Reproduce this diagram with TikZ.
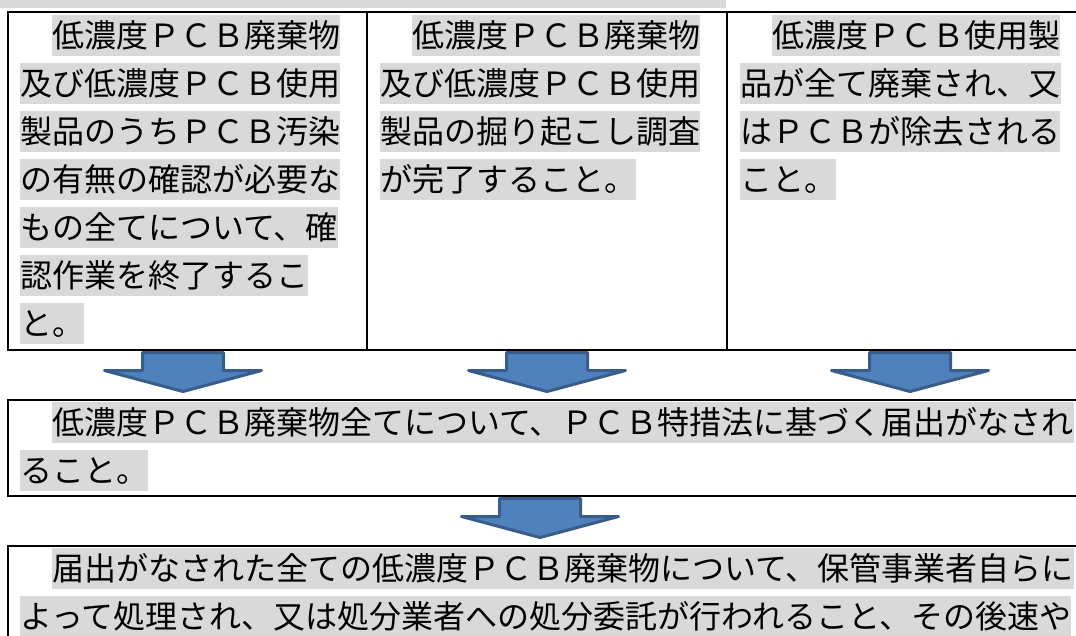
\documentclass[tikz,border=0pt]{standalone}
\usepackage{fontspec}
\newfontfamily\jpfont{Noto Sans CJK JP}
\usetikzlibrary{calc}
\definecolor{hlgray}{HTML}{D9D9D9}
\definecolor{arrowfill}{HTML}{4F81BD}
\definecolor{arrowline}{HTML}{385D8A}
\tikzset{
  boxcell/.style={draw=black, line width=2pt, inner sep=0pt, anchor=north west},
  hl/.style={fill=hlgray, inner xsep=0pt, inner ysep=4.5pt, text height=28pt, text depth=4pt,
    anchor=west, font=\jpfont\fontsize{32pt}{32pt}\selectfont},
  arrowstyle/.style={fill=arrowfill, draw=arrowline, line width=3pt, line join=round},
  downarrow/.pic={
    \path[arrowstyle] (-40.5,1.5) -- (40.5,1.5) -- (40.5,19.5) -- (78.5,19.5) -- (0,40.5)
      -- (-78.5,19.5) -- (-40.5,19.5) -- cycle;
  }
}
\begin{document}
\begin{tikzpicture}[x=1pt,y=-1pt]
\useasboundingbox (0,0) rectangle (1076,635);
\clip (0,0) rectangle (1076,635);
\fill[white] (0,0) rectangle (1076,635);
% cut-off band at the very top
\fill[hlgray] (0,0) rectangle (726,8);

% top row of three cells
\node[boxcell, minimum width=359pt, minimum height=338pt] (c1) at (7,11) {};
\node[boxcell, minimum width=360pt, minimum height=338pt] (c2) at (366,11) {};
\node[boxcell, minimum width=370pt, minimum height=338pt] (c3) at (726,11) {};
% middle and bottom boxes
\node[boxcell, minimum width=1085pt, minimum height=96pt] (b2) at (7,399) {};
\node[boxcell, minimum width=1085pt, minimum height=200pt] (b3) at (7,545) {};

% column 1 text
\node[hl] (t11) at (52,35.5)  {低濃度ＰＣＢ廃棄物};
\node[hl] (t12) at (20,83.5)  {及び低濃度ＰＣＢ使用};
\node[hl] (t13) at (20,131.5) {製品のうちＰＣＢ汚染};
\node[hl] (t14) at (20,179.5) {の有無の確認が必要な};
\node[hl] (t15) at (20,227.5) {もの全てについて、確};
\node[hl] (t16) at (20,275.5) {認作業を終了するこ};
\node[hl] (t17) at (20,323.5) {と。};

% column 2 text
\node[hl] (t21) at (412,35.5)  {低濃度ＰＣＢ廃棄物};
\node[hl] (t22) at (380,83.5)  {及び低濃度ＰＣＢ使用};
\node[hl] (t23) at (380,131.5) {製品の掘り起こし調査};
\node[hl] (t24) at (380,179.5) {が完了すること。};

% column 3 text
\node[hl] (t31) at (772,35.5)  {低濃度ＰＣＢ使用製};
\node[hl] (t32) at (740,83.5)  {品が全て廃棄され、又};
\node[hl] (t33) at (740,131.5) {はＰＣＢが除去される};
\node[hl] (t34) at (740,179.5) {こと。};

% middle box text
\node[hl] (m1) at (52,422.5) {低濃度ＰＣＢ廃棄物全てについて、ＰＣＢ特措法に基づく届出がなされ};
\node[hl] (m2) at (20,470.5) {ること。};

% bottom box text
\node[hl] (n1) at (52,568.5) {届出がなされた全ての低濃度ＰＣＢ廃棄物について、保管事業者自らに};
\node[hl] (n2) at (20,616.5) {よって処理され、又は処分業者への処分委託が行われること、その後速や};

% block arrows
\pic at ($(c1.south)+(-4.5,0)$) {downarrow};
\pic at ($(c2.south)+(0,0)$) {downarrow};
\pic at ($(c3.south)+(-2,0)$) {downarrow};
\pic at ($(b2.south west)+(533,0)$) {downarrow};
\end{tikzpicture}
\end{document}
